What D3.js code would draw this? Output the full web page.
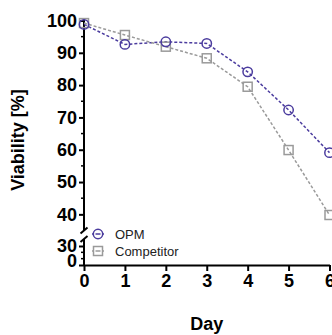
<!DOCTYPE html>
<html>
<head>
<meta charset="utf-8">
<script src="https://cdn.jsdelivr.net/npm/d3@7"></script>
<style>
  body { margin: 0; background: #fff; }
  svg { display: block; font-family: "Liberation Sans", Arial, sans-serif; }
</style>
</head>
<body>
<div id="chart"></div>
<script>
// data
var days = [0, 1, 2, 3, 4, 5, 6];
var opm = [98.8, 92.6, 93.4, 92.9, 84.1, 72.3, 59.1];
var competitor = [99.2, 95.5, 91.9, 88.3, 79.5, 59.9, 39.8];
var seriesNames = ["OPM", "Competitor"];
var upperTicks = [40, 50, 60, 70, 80, 90, 100];
var lowerTicks = [0, 30];

var colors = ["#4b3c9e", "#9a9a9a"];

var margin = {top: 20.5, left: 84},
    width = 245.5,
    upperBottom = 230.5,
    axisY = 265;

var svg = d3.select("#chart").append("svg")
    .attr("width", 332)
    .attr("height", 335);

// scales
var x = d3.scaleLinear()
    .domain([0, 6])
    .range([margin.left, margin.left + width]);

var yUp = d3.scaleLinear()
    .domain([35, 100])
    .range([upperBottom, margin.top]);

var yLow = d3.scaleLinear()
    .domain([0, 30])
    .range([axisY, 246]);

function yPos(v) {
  return v >= 35 ? yUp(v) : yLow(v);
}

// x axis
var xAxis = svg.append("g")
    .attr("transform", "translate(0," + axisY + ")")
    .call(d3.axisBottom(x).tickValues(days).tickFormat(d3.format("d"))
      .tickSize(6).tickPadding(3).tickSizeOuter(0));
xAxis.select(".domain").attr("stroke-width", 2);
xAxis.selectAll(".tick line").attr("stroke-width", 2);
xAxis.selectAll("text")
    .style("font-size", "18px")
    .style("font-weight", "bold")
    .attr("fill", "#000");

// upper y axis segment
var yAxisUp = svg.append("g")
    .attr("transform", "translate(" + margin.left + ",0)")
    .call(d3.axisLeft(yUp).tickValues(upperTicks).tickSize(5).tickPadding(2).tickSizeOuter(0));
yAxisUp.select(".domain").remove();
yAxisUp.selectAll(".tick line").attr("stroke-width", 2);
yAxisUp.selectAll("text")
    .style("font-size", "18px")
    .style("font-weight", "bold")
    .attr("fill", "#000");

// lower y axis segment
var yAxisLow = svg.append("g")
    .attr("transform", "translate(" + margin.left + ",0)")
    .call(d3.axisLeft(yLow).tickValues(lowerTicks).tickSize(5).tickPadding(2).tickSizeOuter(0));
yAxisLow.select(".domain").remove();
yAxisLow.selectAll(".tick line").attr("stroke-width", 2);
yAxisLow.selectAll("text")
    .style("font-size", "18px")
    .style("font-weight", "bold")
    .attr("fill", "#000");
yAxisLow.selectAll(".tick").filter(function(d) { return d === 0; })
    .select("text").attr("dy", "0.1em");

// minor ticks
var minorUp = [45, 55, 65, 75, 85, 95];
var minorLow = [10, 20];
svg.selectAll(".minor")
    .data(minorUp.map(yUp).concat(minorLow.map(yLow)))
    .enter().append("line")
    .attr("x1", margin.left - 3).attr("x2", margin.left)
    .attr("y1", function(d) { return d; })
    .attr("y2", function(d) { return d; })
    .attr("stroke", "#000")
    .attr("stroke-width", 1.5);

// axis lines with break
svg.append("line")
    .attr("x1", margin.left).attr("x2", margin.left)
    .attr("y1", yUp(100) - 1).attr("y2", upperBottom)
    .attr("stroke", "#000").attr("stroke-width", 2);
svg.append("line")
    .attr("x1", margin.left).attr("x2", margin.left)
    .attr("y1", 239).attr("y2", axisY + 1)
    .attr("stroke", "#000").attr("stroke-width", 2);
[upperBottom, 239].forEach(function(yy) {
  svg.append("line")
      .attr("x1", margin.left - 3.5).attr("x2", margin.left + 3.5)
      .attr("y1", yy + 3).attr("y2", yy - 3)
      .attr("stroke", "#000").attr("stroke-width", 2);
});

// axis titles
svg.append("text")
    .attr("transform", "translate(24,140)rotate(-90)")
    .attr("text-anchor", "middle")
    .style("font-size", "18px")
    .style("font-weight", "bold")
    .text("Viability [%]");

svg.append("text")
    .attr("x", x(3))
    .attr("y", 330)
    .attr("text-anchor", "middle")
    .style("font-size", "18px")
    .style("font-weight", "bold")
    .text("Day");

// series
var series = [opm, competitor];
var line = d3.line()
    .x(function(d, i) { return x(days[i]); })
    .y(function(d) { return yPos(d); });

series.forEach(function(vals, s) {
  svg.append("path")
      .attr("d", line(vals))
      .attr("fill", "none")
      .attr("stroke", colors[s])
      .attr("stroke-width", 1.5)
      .attr("stroke-dasharray", "3,2");
});

// markers: competitor squares, then opm circles
svg.selectAll(".sq")
    .data(competitor)
    .enter().append("rect")
    .attr("x", function(d, i) { return x(days[i]) - 4.5; })
    .attr("y", function(d) { return yPos(d) - 4.5; })
    .attr("width", 9).attr("height", 9)
    .attr("fill", "none")
    .attr("stroke", colors[1])
    .attr("stroke-width", 1.5);

svg.selectAll(".ci")
    .data(opm)
    .enter().append("circle")
    .attr("cx", function(d, i) { return x(days[i]); })
    .attr("cy", function(d) { return yPos(d); })
    .attr("r", 4.7)
    .attr("fill", "none")
    .attr("stroke", colors[0])
    .attr("stroke-width", 1.5);

// legend
var legend = svg.selectAll(".legend")
    .data(seriesNames)
    .enter().append("g")
    .attr("transform", function(d, i) { return "translate(98," + (234 + i * 17) + ")"; });

legend.append("line")
    .attr("x1", -6).attr("x2", 6)
    .attr("stroke", function(d, i) { return colors[i]; })
    .attr("stroke-width", 1.5);

legend.each(function(d, i) {
  var g = d3.select(this);
  if (i === 0) {
    g.append("circle").attr("r", 4.7)
        .attr("fill", "#fff").attr("stroke", colors[0]).attr("stroke-width", 1.5);
  } else {
    g.append("rect").attr("x", -4.5).attr("y", -4.5).attr("width", 9).attr("height", 9)
        .attr("fill", "#fff").attr("stroke", colors[1]).attr("stroke-width", 1.5);
  }
  g.append("line").attr("x1", -2.5).attr("x2", 2.5)
      .attr("stroke", colors[i]).attr("stroke-width", 1.5);
});

legend.append("text")
    .attr("x", 17)
    .attr("y", 4.5)
    .style("font-size", "13px")
    .attr("fill", "#222")
    .text(function(d) { return d; });
</script>
</body>
</html>
